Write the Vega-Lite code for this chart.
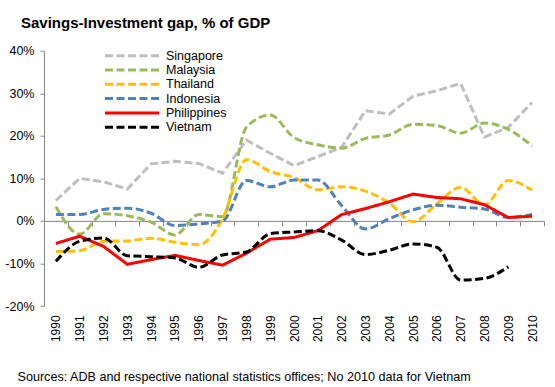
{
  "$schema": "https://vega.github.io/schema/vega-lite/v6.json",
  "autosize": "none",
  "width": 500,
  "height": 255.3,
  "padding": {"left": 44, "top": 50.7, "right": 11, "bottom": 81},
  "background": "#ffffff",
  "config": {
    "view": {"stroke": null},
    "font": "Liberation Sans",
    "axis": {"labelFont": "Liberation Sans", "titleFont": "Liberation Sans", "labelColor": "#000000", "titleColor": "#000000"},
    "legend": {"labelFont": "Liberation Sans"}
  },
  "title": {
    "text": "Savings-Investment gap, % of GDP",
    "anchor": "start",
    "frame": "group",
    "dx": -23,
    "offset": 14,
    "fontSize": 15,
    "fontWeight": "bold",
    "font": "Liberation Sans",
    "color": "#000000"
  },
  "data": {
    "values": [
      {"year": "1990", "Singapore": 4.8, "Malaysia": 3.3, "Thailand": -7.2, "Indonesia": 1.5, "Philippines": -5.3, "Vietnam": -9.5},
      {"year": "1991", "Singapore": 10.0, "Malaysia": -3.1, "Thailand": -7.0, "Indonesia": 1.5, "Philippines": -3.6, "Vietnam": -4.8},
      {"year": "1992", "Singapore": 9.2, "Malaysia": 1.7, "Thailand": -4.8, "Indonesia": 2.7, "Philippines": -6.0, "Vietnam": -4.0},
      {"year": "1993", "Singapore": 7.5, "Malaysia": 1.2, "Thailand": -4.7, "Indonesia": 3.0, "Philippines": -10.2, "Vietnam": -8.2},
      {"year": "1994", "Singapore": 13.4, "Malaysia": -0.3, "Thailand": -4.1, "Indonesia": 1.8, "Philippines": -9.1, "Vietnam": -8.4},
      {"year": "1995", "Singapore": 14.0, "Malaysia": -3.3, "Thailand": -5.0, "Indonesia": -1.1, "Philippines": -8.1, "Vietnam": -8.7},
      {"year": "1996", "Singapore": 13.5, "Malaysia": 1.5, "Thailand": -5.6, "Indonesia": -0.7, "Philippines": -9.3, "Vietnam": -10.9},
      {"year": "1997", "Singapore": 11.2, "Malaysia": 1.0, "Thailand": 0.5, "Indonesia": 0.0, "Philippines": -10.4, "Vietnam": -8.0},
      {"year": "1998", "Singapore": 19.0, "Malaysia": 22.0, "Thailand": 14.4, "Indonesia": 9.5, "Philippines": -7.6, "Vietnam": -7.3},
      {"year": "1999", "Singapore": 15.9, "Malaysia": 24.9, "Thailand": 11.6, "Indonesia": 8.0, "Philippines": -4.3, "Vietnam": -3.0},
      {"year": "2000", "Singapore": 13.0, "Malaysia": 19.6, "Thailand": 10.2, "Indonesia": 9.6, "Philippines": -3.9, "Vietnam": -2.6},
      {"year": "2001", "Singapore": 15.1, "Malaysia": 17.9, "Thailand": 7.3, "Indonesia": 9.6, "Philippines": -2.3, "Vietnam": -2.3},
      {"year": "2002", "Singapore": 17.3, "Malaysia": 17.1, "Thailand": 8.0, "Indonesia": 3.6, "Philippines": 1.5, "Vietnam": -4.5},
      {"year": "2003", "Singapore": 25.9, "Malaysia": 19.4, "Thailand": 7.0, "Indonesia": -1.9, "Philippines": 2.9, "Vietnam": -7.9},
      {"year": "2004", "Singapore": 25.1, "Malaysia": 20.2, "Thailand": 4.2, "Indonesia": 0.5, "Philippines": 4.5, "Vietnam": -6.9},
      {"year": "2005", "Singapore": 29.3, "Malaysia": 22.7, "Thailand": -0.2, "Indonesia": 2.6, "Philippines": 6.3, "Vietnam": -5.4},
      {"year": "2006", "Singapore": 30.6, "Malaysia": 22.4, "Thailand": 4.0, "Indonesia": 3.7, "Philippines": 5.5, "Vietnam": -6.2},
      {"year": "2007", "Singapore": 32.3, "Malaysia": 20.6, "Thailand": 7.9, "Indonesia": 3.2, "Philippines": 5.2, "Vietnam": -13.9},
      {"year": "2008", "Singapore": 19.7, "Malaysia": 23.0, "Thailand": 3.8, "Indonesia": 2.8, "Philippines": 3.8, "Vietnam": -13.5},
      {"year": "2009", "Singapore": 22.0, "Malaysia": 21.5, "Thailand": 9.5, "Indonesia": 0.8, "Philippines": 0.8, "Vietnam": -10.8},
      {"year": "2010", "Singapore": 27.8, "Malaysia": 17.6, "Thailand": 7.2, "Indonesia": 1.5, "Philippines": 1.1}
    ]
  },
  "transform": [
    {"fold": ["Singapore", "Malaysia", "Thailand", "Indonesia", "Philippines", "Vietnam"], "as": ["country", "value"]},
    {"filter": "isValid(datum.value)"}
  ],
  "encoding": {
    "x": {
      "field": "year",
      "type": "ordinal",
      "scale": {"type": "band", "paddingInner": 0, "paddingOuter": 0},
      "axis": {
        "title": "Sources: ADB and respective national statistics offices; No 2010 data for Vietnam",
        "titleFontSize": 12.6,
        "titleFontWeight": "normal",
        "titleX": -27,
        "titleY": 159.5,
        "titleAlign": "left",
        "titleBaseline": "alphabetic",
        "offset": -85.1,
        "domainColor": "#868686",
        "domainWidth": 1,
        "tickColor": "#868686",
        "tickSize": 5,
        "tickBand": "extent",
        "labelAngle": -90,
        "labelAlign": "right",
        "labelBaseline": "middle",
        "labelPadding": 89,
        "labelFontSize": 12,
        "labelOverlap": false,
        "labelFlush": false,
        "grid": false
      }
    },
    "y": {
      "field": "value",
      "type": "quantitative",
      "scale": {"domain": [-20, 40], "nice": false, "zero": false},
      "axis": {
        "title": null,
        "values": [-20, -10, 0, 10, 20, 30, 40],
        "labelExpr": "datum.value + '%'",
        "domainColor": "#868686",
        "tickColor": "#868686",
        "tickSize": 4,
        "labelPadding": 6,
        "labelFontSize": 12.5,
        "grid": false
      }
    },
    "color": {
      "field": "country",
      "type": "nominal",
      "scale": {
        "domain": ["Singapore", "Malaysia", "Thailand", "Indonesia", "Philippines", "Vietnam"],
        "range": ["#BFBFBF", "#9BBB59", "#FFC000", "#4F81BD", "#FF0000", "#000000"]
      },
      "legend": {
        "title": null,
        "orient": "none",
        "legendX": 59.5,
        "legendY": -2,
        "padding": 0,
        "symbolType": "stroke",
        "symbolSize": 2916,
        "symbolStrokeWidth": 3,
        "clipHeight": 14,
        "rowPadding": 0.3,
        "labelOffset": 5.5,
        "labelFontSize": 12.5,
        "labelColor": "#000000"
      }
    },
    "strokeDash": {
      "field": "country",
      "type": "nominal",
      "scale": {
        "domain": ["Singapore", "Malaysia", "Thailand", "Indonesia", "Philippines", "Vietnam"],
        "range": [[8, 3.5], [8, 3.5], [8, 3.5], [8, 3.5], [1, 0], [8, 3.5]]
      },
      "legend": {"title": null}
    }
  },
  "layer": [
    {
      "transform": [{"filter": "datum.country == 'Singapore'"}],
      "mark": {"type": "line", "strokeWidth": 3, "interpolate": "linear"}
    },
    {
      "transform": [{"filter": "datum.country == 'Malaysia' || datum.country == 'Thailand' || datum.country == 'Indonesia'"}],
      "mark": {"type": "line", "strokeWidth": 3, "interpolate": "monotone"}
    },
    {
      "transform": [{"filter": "datum.country == 'Philippines'"}],
      "mark": {"type": "line", "strokeWidth": 3, "interpolate": "linear"}
    },
    {
      "transform": [{"filter": "datum.country == 'Vietnam'"}],
      "mark": {"type": "line", "strokeWidth": 3, "interpolate": "monotone"}
    }
  ]
}
